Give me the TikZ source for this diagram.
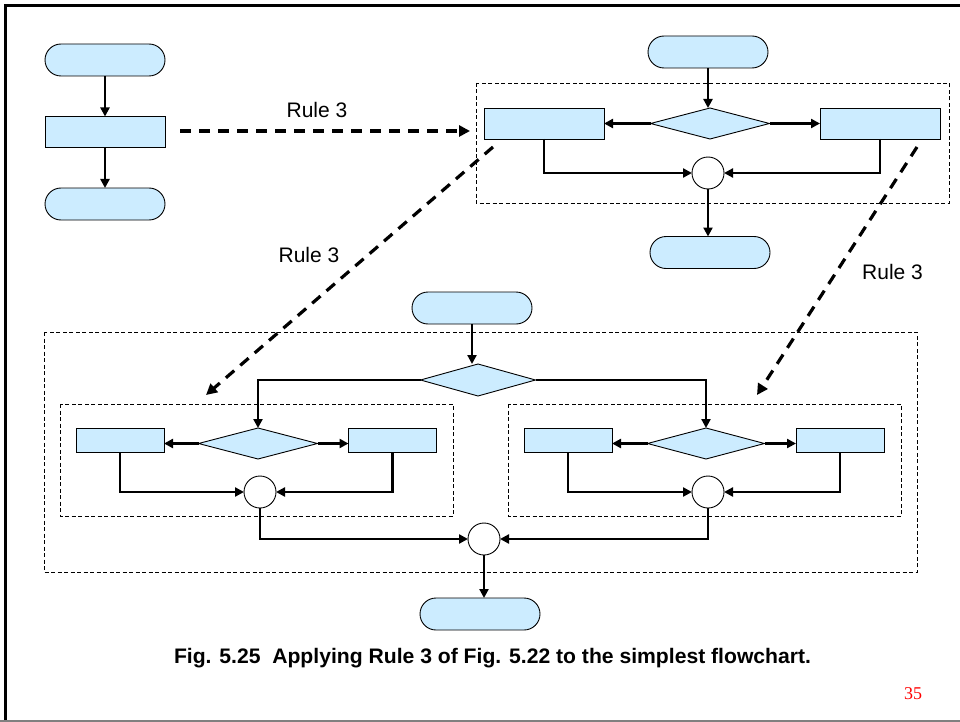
\documentclass[tikz,border=0pt]{standalone}
\usepackage{graphicx}
\usepackage{fontspec}
\setmainfont{Liberation Sans}
\newfontfamily\pagenumfont{Liberation Serif}
\usetikzlibrary{shapes.geometric,arrows.meta}

\definecolor{boxblue}{HTML}{CCECFF}
\definecolor{framegray}{HTML}{808080}

\tikzset{
  shapeline/.style={draw=black, line width=0.9pt, fill=boxblue, inner sep=0pt, outer sep=0pt},
  terminal/.style={shapeline, rectangle, rounded corners=16pt, minimum width=120pt, minimum height=32pt},
  process/.style={shapeline, rectangle, minimum width=120pt, minimum height=31pt},
  smallproc/.style={shapeline, rectangle, minimum width=88pt, minimum height=24pt},
  decision/.style={shapeline, diamond, minimum width=119pt, minimum height=31pt},
  junction/.style={draw=black, line width=0.9pt, fill=white, circle, minimum size=32pt, inner sep=0pt, outer sep=0pt},
  flow/.style={line width=2.8pt, -{Triangle[length=9pt,width=9pt]}},
  groupbox/.style={draw=black, line width=0.8pt, dash pattern=on 4pt off 2.5pt},
  rulearrow/.style={line width=3.2pt, dash pattern=on 11pt off 8pt, -{Triangle[length=11pt,width=11pt]}},
  rulelabel/.style={font=\fontsize{21pt}{24pt}\selectfont, inner sep=0pt, anchor=base},
}

\begin{document}
\begin{tikzpicture}[x=1pt, y=-1pt]
  \useasboundingbox (0,0) rectangle (960,722);

  % slide frame
  \draw[line width=3pt] (5,722) -- (5,5.5) -- (960,5.5);
  \draw[framegray, line width=1.5pt] (0,720.8) -- (960,720.8);

  % ---- simplest flowchart ----
  \node[terminal] (tA) at (105,60) {};
  \node[process]  (pA) at (105,132) {};
  \node[terminal] (tB) at (105,204) {};
  \draw[flow] (tA.south) -- (pA.north);
  \draw[flow] (pA.south) -- (tB.north);

  % ---- first application of rule 3 ----
  \draw[groupbox] (476,83) rectangle (949,203);
  \node[terminal] (tC) at (708,52) {};
  \node[process]  (pL) at (544,123.5) {};
  \node[decision] (dT) at (710,123.5) {};
  \node[process]  (pR) at (880,123.5) {};
  \node[junction] (cT) at (708,173) {};
  \node[terminal] (tD) at (710,252.5) {};
  \draw[flow] (tC.south) -- (tC.south |- dT.north);
  \draw[flow] (dT.west) -- (pL.east);
  \draw[flow] (dT.east) -- (pR.west);
  \draw[flow] (pL.south) |- (cT.west);
  \draw[flow] (pR.south) |- (cT.east);
  \draw[flow] (cT.south) -- (cT.south |- tD.north);

  % ---- second application of rule 3 ----
  \draw[groupbox] (44,332) rectangle (917,572);
  \draw[groupbox] (60,404) rectangle (453,516);
  \draw[groupbox] (508,404) rectangle (901,516);

  \node[terminal] (tE) at (472,308) {};
  \node[decision, minimum width=115pt, minimum height=32pt] (dM) at (478,380) {};

  \node[smallproc] (rLL) at (120,440) {};
  \node[decision]  (dL)  at (258,443.5) {};
  \node[smallproc] (rLR) at (392.5,440) {};
  \node[junction]  (cL)  at (260,492) {};

  \node[smallproc] (rRL) at (568,440) {};
  \node[decision, minimum width=117pt] (dR) at (706,443.5) {};
  \node[smallproc] (rRR) at (840,440) {};
  \node[junction]  (cR)  at (708,492) {};

  \node[junction] (cM) at (484,539) {};
  \node[terminal] (tF) at (480,614) {};

  \draw[flow] (tE.south) -- (tE.south |- dM.north);
  \draw[flow] (dM.west) -| (dL.north);
  \draw[flow] (dM.east) -| (dR.north);

  \draw[flow] (dL.west) -- (dL.west -| rLL.east);
  \draw[flow] (dL.east) -- (dL.east -| rLR.west);
  \draw[flow] (rLL.south) |- (cL.west);
  \draw[flow] (rLR.south) |- (cL.east);

  \draw[flow] (dR.west) -- (dR.west -| rRL.east);
  \draw[flow] (dR.east) -- (dR.east -| rRR.west);
  \draw[flow] (rRL.south) |- (cR.west);
  \draw[flow] (rRR.south) |- (cR.east);

  \draw[flow] (cL.south) |- (cM.west);
  \draw[flow] (cR.south) |- (cM.east);
  \draw[flow] (cM.south) -- (cM.south |- tF.north);

  % ---- rule arrows ----
  \coordinate (r1s) at (180,131);
  \coordinate (r1e) at (470,131);
  \coordinate (r2s) at (493,147);
  \coordinate (r2e) at (206,395);
  \coordinate (r3s) at (917,147);
  \coordinate (r3e) at (757,395);
  \draw[rulearrow] (r1s) -- (r1e);
  \draw[rulearrow] (r2s) -- (r2e);
  \draw[rulearrow] (r3s) -- (r3e);
  \node[rulelabel] (l1) at (317,118) {Rule 3};
  \node[rulelabel] (l2) at (309,262) {Rule 3};
  \node[rulelabel] (l3) at (892.5,279) {Rule 3};

  % ---- caption and page number ----
  \node[inner sep=0pt, anchor=base, font=\fontsize{21pt}{24pt}\selectfont\bfseries] (caption) at (492.5,663)
    {\resizebox{637pt}{\height}{Fig. 5.25\ \ Applying Rule 3 of Fig. 5.22 to the simplest flowchart.}};
  \node[inner sep=0pt, anchor=base, text=red, font=\pagenumfont\fontsize{18pt}{20pt}\selectfont] (pagenum) at (913,699) {35};
\end{tikzpicture}
\end{document}
